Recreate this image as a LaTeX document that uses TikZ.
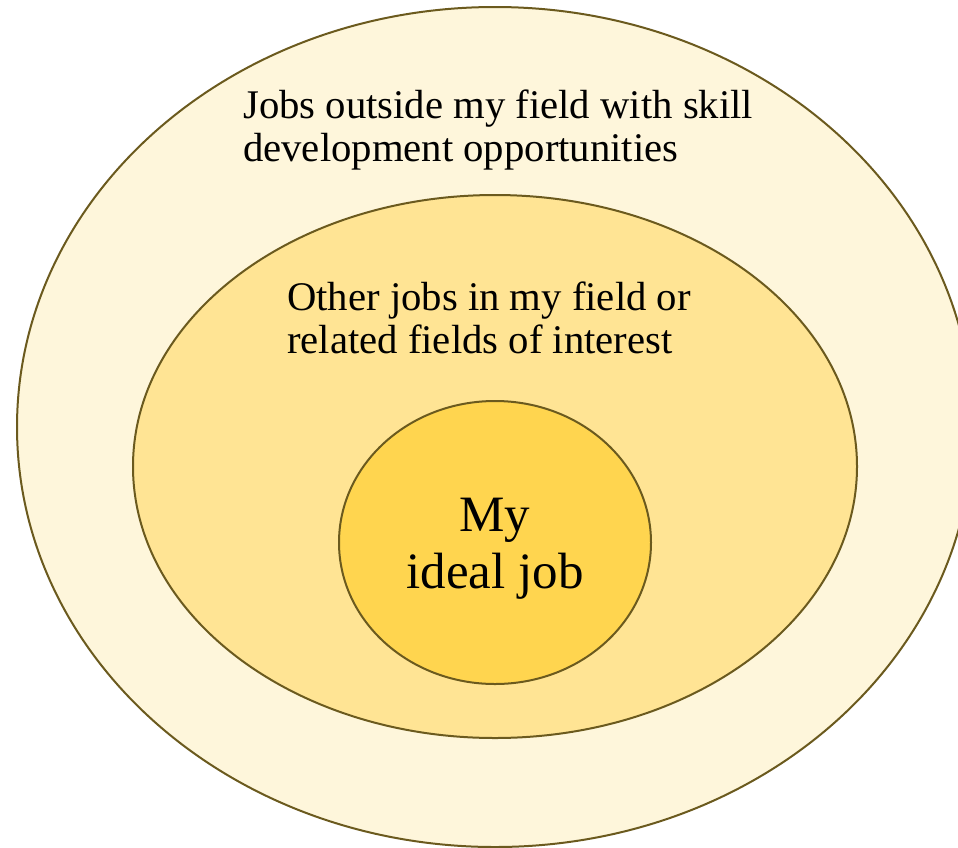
\documentclass[tikz,border=0pt]{standalone}
\usepackage{fontspec}
\setmainfont{Liberation Serif}
\definecolor{edge}{HTML}{6B5A1E}
\definecolor{outerfill}{HTML}{FEF6DB}
\definecolor{midfill}{HTML}{FFE494}
\definecolor{innerfill}{HTML}{FFD54F}
\tikzset{
  ring/.style={draw=edge, line width=2pt},
  lbl/.style={inner sep=0pt, anchor=base west, font=\fontsize{40.7}{46}\selectfont},
  core/.style={inner sep=0pt, anchor=base, font=\fontsize{51}{56}\selectfont}
}
\begin{document}
\begin{tikzpicture}[x=1pt,y=-1pt]
\useasboundingbox (0,0) rectangle (958,847);
\begin{scope}
\clip (0,0) rectangle (958,847);
\path[ring, fill=outerfill] (495,427) ellipse [x radius=478, y radius=420];
\end{scope}
\path[ring, fill=midfill] (495,466.5) ellipse [x radius=362, y radius=271.5];
\path[ring, fill=innerfill] (495,542.5) ellipse [x radius=156, y radius=141.5];
\node[lbl] (o1) at (243,118) {Jobs outside my field with skill};
\node[lbl] (o2) at (243,161) {development opportunities};
\node[lbl] (m1) at (287,310) {Other jobs in my field or};
\node[lbl] (m2) at (287,353) {related fields of interest};
\node[core] (c1) at (495,531) {My};
\node[core] (c2) at (495,588) {ideal job};
\end{tikzpicture}
\end{document}
